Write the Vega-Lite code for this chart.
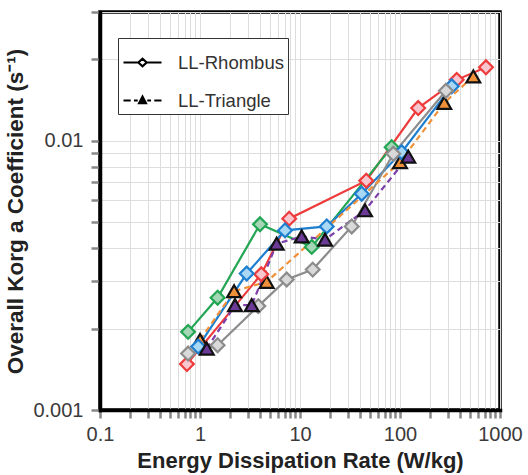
{
  "$schema": "https://vega.github.io/schema/vega-lite/v6.json",
  "width": 400,
  "height": 398,
  "autosize": "none",
  "padding": {"left": 100, "top": 12, "right": 28, "bottom": 65},
  "view": {"stroke": "black", "strokeWidth": 3.5},
  "config": {
    "view": {"stroke": "black", "strokeWidth": 3.5},
    "style": {"cell": {"stroke": "black", "strokeWidth": 3.5}},
    "font": "Liberation Sans"
  },
  "data": {
    "values": [
      {"series": "Orange", "type": "LL-Triangle", "x": 1.0, "y": 0.00182},
      {"series": "Orange", "type": "LL-Triangle", "x": 2.19, "y": 0.00276},
      {"series": "Orange", "type": "LL-Triangle", "x": 4.64, "y": 0.00299},
      {"series": "Orange", "type": "LL-Triangle", "x": 100, "y": 0.00831},
      {"series": "Orange", "type": "LL-Triangle", "x": 277, "y": 0.0138},
      {"series": "Orange", "type": "LL-Triangle", "x": 541, "y": 0.0173},
      {"series": "Red", "type": "LL-Rhombus", "x": 0.74, "y": 0.00148},
      {"series": "Red", "type": "LL-Rhombus", "x": 4.1, "y": 0.00319},
      {"series": "Red", "type": "LL-Rhombus", "x": 7.8, "y": 0.00513},
      {"series": "Red", "type": "LL-Rhombus", "x": 46, "y": 0.0071},
      {"series": "Red", "type": "LL-Rhombus", "x": 152, "y": 0.0132},
      {"series": "Red", "type": "LL-Rhombus", "x": 369, "y": 0.0168},
      {"series": "Red", "type": "LL-Rhombus", "x": 724, "y": 0.0187},
      {"series": "Green", "type": "LL-Rhombus", "x": 0.76, "y": 0.00195},
      {"series": "Green", "type": "LL-Rhombus", "x": 1.5, "y": 0.00261},
      {"series": "Green", "type": "LL-Rhombus", "x": 3.98, "y": 0.00489},
      {"series": "Green", "type": "LL-Rhombus", "x": 13.1, "y": 0.00403},
      {"series": "Green", "type": "LL-Rhombus", "x": 82.5, "y": 0.00945},
      {"series": "Blue", "type": "LL-Rhombus", "x": 0.96, "y": 0.00172},
      {"series": "Blue", "type": "LL-Rhombus", "x": 2.93, "y": 0.00321},
      {"series": "Blue", "type": "LL-Rhombus", "x": 7.08, "y": 0.00464},
      {"series": "Blue", "type": "LL-Rhombus", "x": 18.5, "y": 0.0048},
      {"series": "Blue", "type": "LL-Rhombus", "x": 41.4, "y": 0.00635},
      {"series": "Blue", "type": "LL-Rhombus", "x": 104, "y": 0.00905},
      {"series": "Blue", "type": "LL-Rhombus", "x": 329, "y": 0.0159},
      {"series": "Gray", "type": "LL-Rhombus", "x": 0.76, "y": 0.00162},
      {"series": "Gray", "type": "LL-Rhombus", "x": 1.5, "y": 0.00174},
      {"series": "Gray", "type": "LL-Rhombus", "x": 3.83, "y": 0.00243},
      {"series": "Gray", "type": "LL-Rhombus", "x": 7.36, "y": 0.00305},
      {"series": "Gray", "type": "LL-Rhombus", "x": 13.4, "y": 0.00332},
      {"series": "Gray", "type": "LL-Rhombus", "x": 32.9, "y": 0.0048},
      {"series": "Gray", "type": "LL-Rhombus", "x": 85.7, "y": 0.00893},
      {"series": "Gray", "type": "LL-Rhombus", "x": 288, "y": 0.0153},
      {"series": "Purple", "type": "LL-Triangle", "x": 1.17, "y": 0.00169},
      {"series": "Purple", "type": "LL-Triangle", "x": 2.24, "y": 0.00245},
      {"series": "Purple", "type": "LL-Triangle", "x": 3.29, "y": 0.00245},
      {"series": "Purple", "type": "LL-Triangle", "x": 5.84, "y": 0.00414},
      {"series": "Purple", "type": "LL-Triangle", "x": 10.4, "y": 0.00441},
      {"series": "Purple", "type": "LL-Triangle", "x": 17.8, "y": 0.00429},
      {"series": "Purple", "type": "LL-Triangle", "x": 44.7, "y": 0.00551},
      {"series": "Purple", "type": "LL-Triangle", "x": 121, "y": 0.00872}
    ]
  },
  "encoding": {
    "x": {
      "field": "x", "type": "quantitative",
      "scale": {"type": "log", "domain": [0.1, 1000], "nice": false},
      "axis": {
        "title": "Energy Dissipation Rate (W/kg)",
        "titleFontSize": 22, "titleFontWeight": "bold", "titleColor": "#222", "titleFont": "Liberation Sans",
        "titlePadding": 6,
        "domain": true, "domainColor": "black", "domainWidth": 3.5, "domainCap": "square",
        "labelFontSize": 20, "labelColor": "#3a3a3a", "labelFont": "Liberation Sans",
        "labelPadding": 6, "labelOverlap": false, "labelFlush": false,
        "labelExpr": "abs(log(datum.value)/LN10 - round(log(datum.value)/LN10)) < 0.001 ? format(datum.value, '~g') : ''",
        "tickSize": 8, "tickWidth": 2.5,
        "grid": true,
        "encode": {
          "ticks": {"update": {"stroke": {"signal": "abs(log(datum.value)/LN10 - round(log(datum.value)/LN10)) < 0.001 ? 'black' : 'transparent'"}}},
          "grid": {"update": {
            "stroke": {"signal": "(datum.value < 0.1001 || datum.value > 999) ? 'black' : (abs(log(datum.value)/LN10 - round(log(datum.value)/LN10)) < 0.001 ? '#b3b3b3' : '#dadada')"},
            "strokeWidth": {"signal": "(datum.value < 0.1001 || datum.value > 999) ? 3.5 : 1"}
          }}
        }
      }
    },
    "y": {
      "field": "y", "type": "quantitative",
      "scale": {"type": "log", "domain": [0.001, 0.03], "nice": false},
      "axis": {
        "title": "Overall Korg a Coefficient (s⁻¹)",
        "titleFontSize": 22.5, "titleFontWeight": "bold", "titleColor": "#222", "titleFont": "Liberation Sans",
        "titlePadding": 5,
        "domain": true, "domainColor": "black", "domainWidth": 3.5, "domainCap": "square",
        "labelFontSize": 20, "labelColor": "#3a3a3a", "labelFont": "Liberation Sans",
        "labelPadding": 8, "labelOverlap": false, "labelFlush": false,
        "labelExpr": "abs(log(datum.value)/LN10 - round(log(datum.value)/LN10)) < 0.001 ? format(datum.value, '~g') : ''",
        "tickSize": 9, "tickWidth": 2.5,
        "grid": true,
        "encode": {
          "ticks": {"update": {"stroke": {"signal": "abs(log(datum.value)/LN10 - round(log(datum.value)/LN10)) < 0.001 ? 'black' : 'transparent'"}}},
          "grid": {"update": {
            "stroke": {"signal": "(datum.value < 0.001001 || datum.value > 0.0299) ? 'black' : (abs(log(datum.value)/LN10 - round(log(datum.value)/LN10)) < 0.001 ? '#b3b3b3' : '#dadada')"},
            "strokeWidth": {"signal": "(datum.value < 0.001001 || datum.value > 0.0299) ? 3.5 : 1"}
          }}
        }
      }
    }
  },
  "layer": [
    {
      "transform": [{"filter": "datum.type === 'LL-Rhombus'"}],
      "mark": {"type": "line", "strokeWidth": 2.2},
      "encoding": {
        "stroke": {
          "field": "series", "type": "nominal", "legend": null,
          "scale": {"domain": ["Red", "Green", "Blue", "Gray", "Orange", "Purple"],
                    "range": ["#ee3b3b", "#22a653", "#1e7fd0", "#8c8c8c", "#f0913a", "#7d3fa8"]}
        }
      }
    },
    {
      "transform": [{"filter": "datum.type === 'LL-Triangle'"}],
      "mark": {"type": "line", "strokeWidth": 2.2, "strokeDash": [6, 4]},
      "encoding": {
        "stroke": {
          "field": "series", "type": "nominal", "legend": null,
          "scale": {"domain": ["Red", "Green", "Blue", "Gray", "Orange", "Purple"],
                    "range": ["#ee3b3b", "#22a653", "#1e7fd0", "#8c8c8c", "#f0913a", "#7d3fa8"]}
        }
      }
    },
    {
      "mark": {"type": "point", "filled": true, "size": 190, "strokeWidth": 2.2, "opacity": 1},
      "encoding": {
        "shape": {
          "field": "type", "type": "nominal",
          "scale": {"domain": ["LL-Rhombus", "LL-Triangle"], "range": ["diamond", "triangle-up"]},
          "legend": null
        },
        "fill": {
          "field": "series", "type": "nominal", "legend": null,
          "scale": {"domain": ["Red", "Green", "Blue", "Gray", "Orange", "Purple"],
                    "range": ["#f7c6cf", "#a5d6b5", "#a9d8f5", "#d9d9d9", "#f0913a", "#6b3a96"]}
        },
        "stroke": {
          "field": "series", "type": "nominal", "legend": null,
          "scale": {"domain": ["Red", "Green", "Blue", "Gray", "Orange", "Purple"],
                    "range": ["#ee3b3b", "#22a653", "#1e7fd0", "#8c8c8c", "#111111", "#111111"]}
        }
      }
    },
    {
      "transform": [{"filter": "false"}],
      "mark": {"type": "point", "filled": false, "color": "black", "strokeWidth": 2.2, "opacity": 1},
      "encoding": {
        "shape": {
          "field": "type", "type": "nominal",
          "scale": {"domain": ["LL-Rhombus", "LL-Triangle"],
                    "range": ["M-1,0L-0.22,0M0.22,0L1,0M-0.22,0L0,-0.2L0.22,0L0,0.2Z",
                              "M-1,0L-0.62,0M-0.45,0L-0.25,0M0.25,0L0.45,0M0.62,0L1,0M-0.18,0.14L0,-0.2L0.18,0.14ZM-0.09,0.09L0,-0.07L0.09,0.09ZM0,-0.1L0,0.12"]},
          "legend": {
            "title": null, "orient": "none", "legendX": 18, "legendY": 26, "direction": "vertical",
            "fillColor": "white", "strokeColor": "#333", "padding": 4,
            "symbolSize": 1444, "symbolStrokeWidth": 2.2, "symbolStrokeColor": "black",
            "labelFontSize": 18.5, "labelFont": "Liberation Sans", "labelColor": "#333",
            "labelOffset": 15, "rowPadding": 8
          }
        }
      }
    }
  ],
  "resolve": {"scale": {"stroke": "independent", "shape": "independent"}}
}
